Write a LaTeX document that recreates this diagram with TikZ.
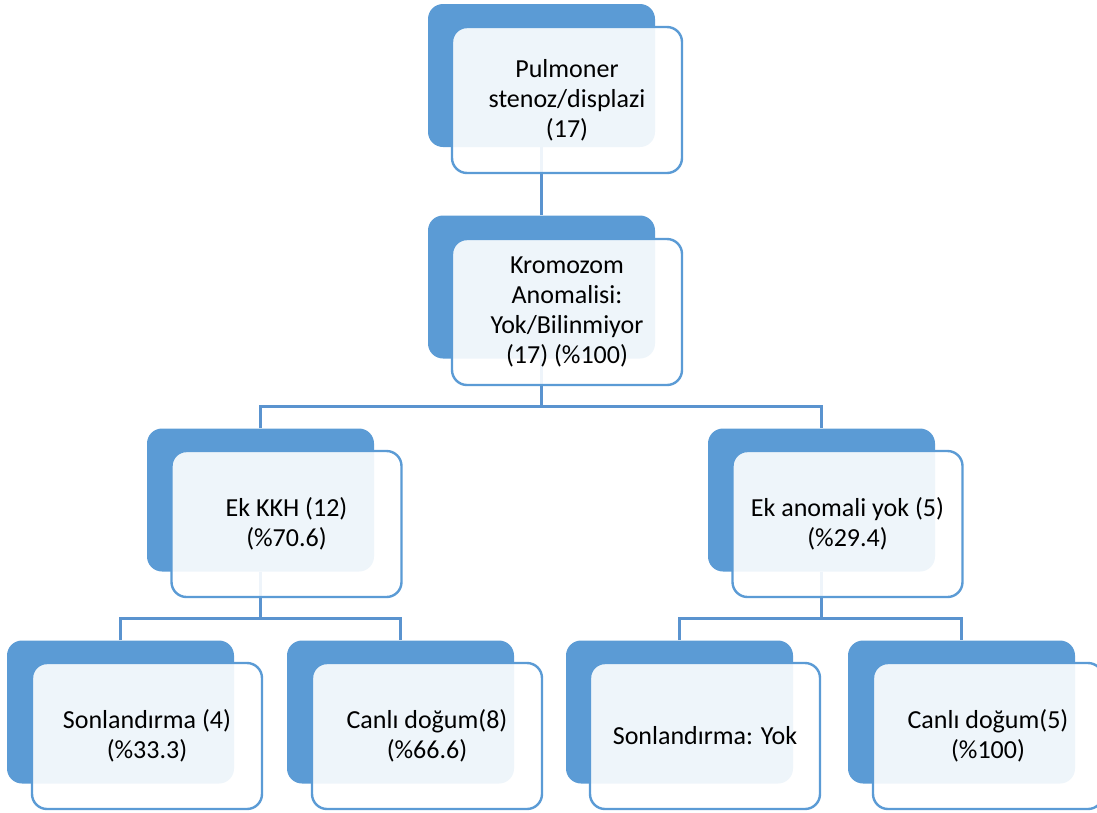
\documentclass[tikz,border=0pt]{standalone}
\usepackage{fontspec}
\setmainfont{Carlito}
\usetikzlibrary{calc,backgrounds}
\definecolor{accent}{HTML}{5B9BD5}
\definecolor{linkblue}{HTML}{5A93CF}
\tikzset{
  backbox/.style={rectangle, rounded corners=15pt, fill=accent, draw=none,
    minimum width=227pt, minimum height=143pt, inner sep=0pt},
  frontbox/.style={rectangle, rounded corners=15pt, fill=white, fill opacity=0.9,
    text opacity=1, draw=accent, line width=2.4pt,
    minimum width=230pt, minimum height=146pt, inner sep=0pt,
    align=center, font=\fontsize{26}{30}\selectfont, text=black},
  conn/.style={draw=linkblue, line width=2.6pt}
}
\begin{document}
\begin{tikzpicture}[x=1pt,y=-1pt]
\useasboundingbox (0,0) rectangle (1097,812);
\clip (0,0) rectangle (1097,812);

% level 1
\node[backbox] (b1) at (541.5,75.5) {};
\node[frontbox] (f1) at (567,100) {Pulmoner\\stenoz/displazi\\(17)};
% level 2
\node[backbox] (b2) at (541.5,287) {};
\node[frontbox] (f2) at (567,312) {Kromozom\\Anomalisi:\\Yok/Bilinmiyor\\(17) (\%100)};
% level 3
\node[backbox] (b3l) at (260.5,500) {};
\node[frontbox] (f3l) at (286.5,524) {Ek KKH (12)\\(\%70.6)};
\node[backbox] (b3r) at (821.5,500) {};
\node[frontbox] (f3r) at (847.5,524) {Ek anomali yok (5)\\(\%29.4)};
% level 4
\node[backbox] (b4a) at (120.5,712) {};
\node[frontbox] (f4a) at (147,736) {Sonlandırma (4)\\(\%33.3)};
\node[backbox] (b4b) at (400.5,712) {};
\node[frontbox] (f4b) at (427,736) {Canlı doğum(8)\\(\%66.6)};
\node[backbox] (b4c) at (679.5,712) {};
\node[frontbox] (f4c) at (705,736) {Sonlandırma: Yok};
\node[backbox] (b4d) at (961.5,712) {};
\node[frontbox] (f4d) at (988,736) {Canlı doğum(5)\\(\%100)};

% junction points of the branch bars
\coordinate (j2) at ($(b2.south |- f2.south)+(0,20)$);
\coordinate (j3l) at ($(b3l.south |- f3l.south)+(0,20)$);
\coordinate (j3r) at ($(b3r.south |- f3r.south)+(0,20)$);

\begin{pgfonlayer}{background}
  \draw[conn] (b1.south) -- (b2.north);
  \draw[conn] (b2.south) -- (j2);
  \draw[conn] (b3l.north) |- (j2) -| (b3r.north);
  \draw[conn] (b3l.south) -- (j3l);
  \draw[conn] (b4a.north) |- (j3l) -| (b4b.north);
  \draw[conn] (b3r.south) -- (j3r);
  \draw[conn] (b4c.north) |- (j3r) -| (b4d.north);
\end{pgfonlayer}
\end{tikzpicture}
\end{document}
